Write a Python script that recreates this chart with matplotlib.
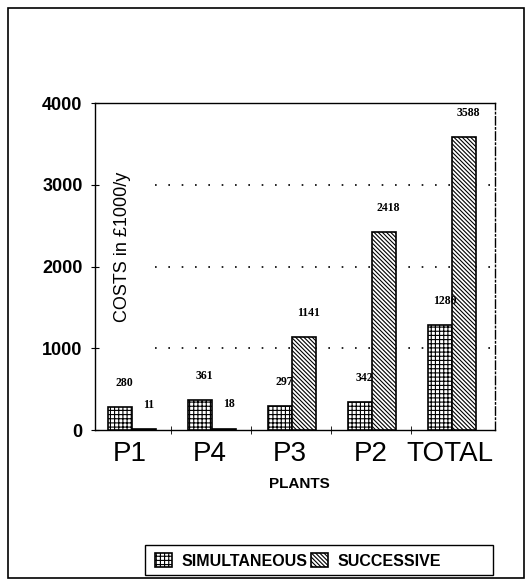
import numpy as np
import matplotlib
matplotlib.use('Agg')
import matplotlib.pyplot as plt
from matplotlib.patches import Rectangle

plt.rcParams['font.family'] = ['Liberation Sans', 'DejaVu Sans']
plt.rcParams['hatch.linewidth'] = 0.8

plants = ['P1', 'P4', 'P3', 'P2', 'TOTAL']
simultaneous = [280, 361, 297, 342, 1280]
successive = [11, 18, 1141, 2418, 3588]
yticks = [0, 1000, 2000, 3000, 4000]

fig = plt.figure(figsize=(5.28, 5.86), dpi=100)
# outer frame and legend box
fig.patches.append(Rectangle((8 / 528, 8 / 586), 516 / 528, 570 / 586,
                             transform=fig.transFigure, fill=False,
                             edgecolor='black', linewidth=1.2))
fig.patches.append(Rectangle((145 / 528, 11 / 586), 348 / 528, 30 / 586,
                             transform=fig.transFigure, fill=False,
                             edgecolor='black', linewidth=1.0))

ax = fig.add_axes([0.180, 0.2662, 0.7576, 0.558])
x = np.arange(len(plants))
w = 0.30
b1 = ax.bar(x + 0.30, simultaneous, w, color='white', edgecolor='black',
            hatch='++++', linewidth=1.2, label='SIMULTANEOUS', zorder=3)
b2 = ax.bar(x + 0.30 + w, successive, w, color='white', edgecolor='black',
            hatch='\\\\\\\\\\\\\\\\', linewidth=1.2, label='SUCCESSIVE', zorder=3)

for bars, vals in ((b1, simultaneous), (b2, successive)):
    for r, v in zip(bars, vals):
        ax.annotate(str(v), (r.get_x() + r.get_width() * 0.7, v),
                    xytext=(0, 13), textcoords='offset points',
                    ha='center', va='bottom', fontsize=8.5, fontweight='bold',
                    family='Liberation Serif', zorder=4)

ax.set_xlim(-0.01, 4.99)
ax.set_ylim(0, 4000)
ax.set_yticks(yticks)
ax.set_yticklabels([str(t) for t in yticks], fontsize=13, fontweight='bold')
ax.set_xticks(x + 0.43)
ax.set_xticklabels(plants, fontsize=20)
ax.set_xticks(x[:-1] + 0.94, minor=True)
ax.tick_params(axis='x', which='major', length=0, pad=8)
ax.tick_params(axis='x', which='minor', length=6, direction='inout')
ax.tick_params(axis='y', length=6, direction='inout', pad=6)

for y in yticks[1:4]:
    ax.axhline(y, xmin=0.15, color='black', linestyle=(0, (1, 7)),
               linewidth=1.2, zorder=1)

ax.text(0.0675, 0.561, 'COSTS in \u00a31000/y', transform=ax.transAxes,
        rotation=90, ha='center', va='center', fontsize=13)
fig.text(299 / 528, 1 - 484 / 586, 'PLANTS', ha='center', va='center',
         fontsize=11, fontweight='bold')

for s in ax.spines.values():
    s.set_linewidth(1.0)
ax.spines['right'].set_linestyle((0, (6, 2, 1, 2)))

leg = fig.legend(handles=[b1, b2], loc='center left',
                 bbox_to_anchor=(147 / 528, 1 - 561 / 586), ncol=2,
                 frameon=False, handlelength=1.06, handleheight=0.94,
                 handletextpad=0.6, columnspacing=0.25, borderpad=0,
                 prop={'size': 11.5, 'weight': 'bold'})

fig.savefig('out.png', dpi=100)
